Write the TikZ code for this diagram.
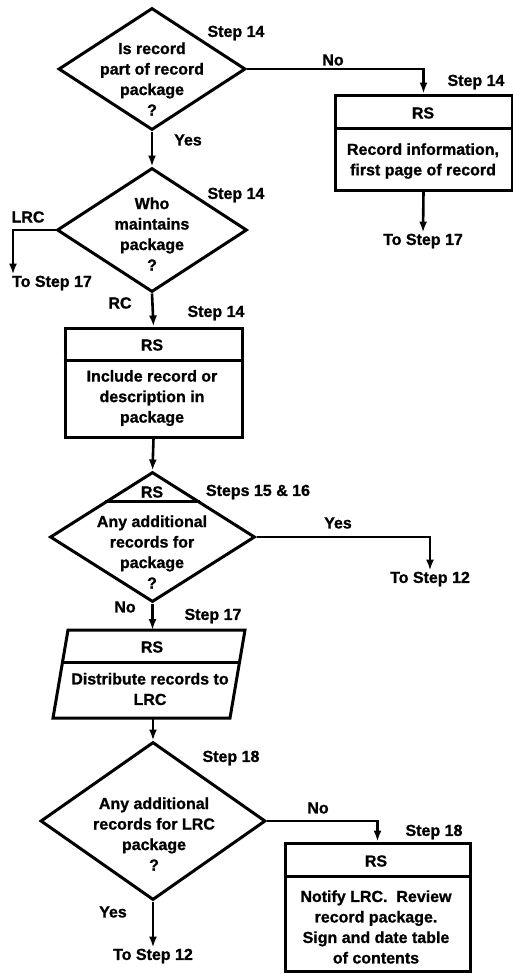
\documentclass[tikz,border=0pt]{standalone}
\usepackage{fontspec}
\setmainfont{Liberation Sans}[BoldFeatures={FakeBold=1}]
\usetikzlibrary{arrows.meta, positioning, shapes.geometric, calc}

\tikzset{
  flow/.style={line width=3pt},
  arr/.style={line width=2.6pt, -{Latex[length=11pt,width=8pt]}},
  dec/.style={diamond, draw, line width=3pt, inner sep=0pt},
  box/.style={rectangle, draw, line width=3pt, inner sep=0pt},
  txt/.style={align=center, inner sep=1pt, font=\bfseries\fontsize{16}{20.5}\selectfont},
}

\begin{document}
\begin{tikzpicture}[x=1pt, y=-1pt]
  \useasboundingbox (0,0) rectangle (513,974);

  % first decision
  \node[dec, minimum width=187pt, minimum height=122pt] (d1) at (152,69) {};
  \node[txt] (q1) at (152,79) {Is record\\part of record\\package\\?};
  \node[txt] (s1) at (236,33) {Step 14};

  % record information box
  \node[box, minimum width=177pt, minimum height=95pt] (b1) at (423.5,142.5) {};
  \draw[flow] ($(b1.north west)+(0,35)$) -- ($(b1.north east)+(0,35)$);
  \node[txt] (h1) at (423,113) {RS};
  \node[txt] (t1) at (423,161) {Record information,\\first page of record};
  \node[txt] (s2) at (476,82) {Step 14};
  \node[txt] (to1) at (423,241) {To Step 17};

  % who maintains
  \node[dec, minimum width=190pt, minimum height=124pt] (d2) at (152,230) {};
  \node[txt] (q2) at (152,234) {Who\\maintains\\package\\?};
  \node[txt] (s3) at (236,195) {Step 14};
  \node[txt] (lrc) at (28,217) {LRC};
  \coordinate (c1) at (13,230);
  \node[txt] (to2) at (52,283) {To Step 17};
  \node[txt] (rc) at (120,303) {RC};
  \node[txt] (s4) at (216,313) {Step 14};

  % include record box
  \node[box, minimum width=177pt, minimum height=109pt] (b2) at (153.5,382.5) {};
  \draw[flow] ($(b2.north west)+(0,34)$) -- ($(b2.north east)+(0,34)$);
  \node[txt] (h2) at (152,345) {RS};
  \node[txt] (t2) at (152,398) {Include record or\\description in\\package};

  % additional records
  \node[dec, minimum width=205pt, minimum height=130pt] (d3) at (152.5,537) {};
  \draw[flow] ($(d3.north)!0.46!(d3.west)$) -- ($(d3.north)!0.46!(d3.east)$);
  \node[txt] (h3) at (152,492) {RS};
  \node[txt] (q3) at (152,552) {Any additional\\records for\\package\\?};
  \node[txt] (s5) at (258,492) {Steps 15 \& 16};
  \node[txt] (yes2) at (338,523) {Yes};
  \node[txt] (to3) at (430,579) {To Step 12};
  \node[txt] (no2) at (125,607) {No};
  \node[txt] (s6) at (213,616) {Step 17};

  % distribute (slanted box)
  \coordinate (b3n) at (152.5,630);
  \coordinate (b3s) at (153,718);
  \draw[flow, line join=miter] (68,630) -- (245,630) -- (230,718) -- (53,718) -- cycle;
  \draw[flow] (62.5,662) -- (239.5,662);
  \node[txt] (h4) at (152,647) {RS};
  \node[txt] (t3) at (150,689) {Distribute records to\\LRC};

  % additional LRC records
  \node[dec, minimum width=225pt, minimum height=158pt] (d4) at (153,821) {};
  \node[txt] (q4) at (154,834) {Any additional\\records for LRC\\package\\?};
  \node[txt] (s7) at (231,758) {Step 18};
  \node[txt] (no3) at (318,808) {No};
  \node[txt] (s8) at (434,832) {Step 18};
  \node[txt] (yes3) at (113,912) {Yes};
  \node[txt] (to4) at (153,956) {To Step 12};

  % notify box
  \node[box, minimum width=185pt, minimum height=128pt] (b4) at (377.5,907) {};
  \draw[flow] ($(b4.north west)+(0,35)$) -- ($(b4.north east)+(0,35)$);
  \node[txt] (h5) at (376,861) {RS};
  \node[txt] (t4) at (376,927) {Notify LRC.\ \ Review\\record package.\\Sign and date table\\of contents};

  % connectors
  \node[txt] (no1) at (333,60) {No};
  \node[txt] (yes1) at (188,140) {Yes};
  \draw[arr] (d1.east) -| (b1.north);
  \draw[arr] (b1.south) -- (to1.north);
  \draw[arr] (d1.south) -- (d2.north);
  \draw[arr] (d2.west) -- (c1) -- (c1 |- to2.north);
  \draw[arr] (d2.south) -- (b2.north);
  \draw[arr] (b2.south) -- (d3.north);
  \draw[arr] (d3.east) -| (to3.north);
  \draw[arr] (d3.south) -- (b3n);
  \draw[arr] (b3s) -- (d4.north);
  \draw[arr] (d4.east) -| (b4.north);
  \draw[arr] (d4.south) -- (to4.north);
\end{tikzpicture}
\end{document}
